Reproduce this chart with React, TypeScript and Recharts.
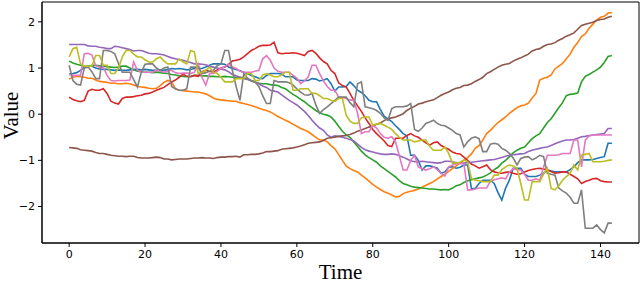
import { CartesianGrid, Label, Line, LineChart, XAxis, YAxis } from "recharts";

const TIME = Array.from({ length: 144 }, (_, i) => i);
const X_TICKS = [0, 20, 40, 60, 80, 100, 120, 140];
const Y_TICKS = [-2, -1, 0, 1, 2];

const blue = [
  0.87, 0.88, 0.9, 0.95, 1.02, 1.05, 1.04, 1.0, 0.98, 0.97, 0.97, 0.96, 0.95, 0.96, 0.95, 0.95,
  0.96, 0.97, 0.97, 0.96, 0.97, 0.96, 0.95, 0.95, 0.96, 0.95, 0.97, 0.99, 0.98, 0.99, 0.98, 0.96,
  0.97, 0.99, 0.99, 0.99, 1.02, 1.06, 1.09, 1.09, 1.09, 1.08, 1.02, 0.99, 0.97, 0.94, 0.91, 0.88,
  0.84, 0.81, 0.78, 0.77, 0.84, 0.88, 0.88, 0.88, 0.87, 0.81, 0.81, 0.81, 0.74, 0.73, 0.73, 0.73,
  0.77, 0.76, 0.72, 0.74, 0.77, 0.66, 0.5, 0.59, 0.59, 0.6, 0.7, 0.62, 0.52, 0.47, 0.4, 0.3,
  0.27, 0.27, 0.1, -0.04, -0.1, -0.16, -0.25, -0.33, -0.42, -0.47, -0.89, -0.89, -1.0, -1.21, -1.12, -1.12,
  -1.14, -1.17, -1.28, -1.25, -1.15, -1.14, -1.17, -1.15, -1.1, -1.1, -1.61, -1.61, -1.5, -1.43, -1.43, -1.43,
  -1.5, -1.7, -1.86, -1.6, -1.43, -1.17, -1.17, -1.17, -1.3, -1.35, -1.35, -1.35, -1.32, -1.28, -1.21, -1.23,
  -1.25, -1.25, -1.25, -1.25, -1.2, -1.14, -1.05, -0.99, -0.99, -0.99, -0.98, -0.96, -0.94, -0.92, -0.63, -0.63,
];

const orange = [
  0.76, 0.8, 0.82, 0.81, 0.8, 0.78, 0.78, 0.74, 0.71, 0.7, 0.69, 0.67, 0.67, 0.66, 0.66, 0.67,
  0.66, 0.63, 0.6, 0.59, 0.58, 0.56, 0.55, 0.56, 0.62, 0.69, 0.73, 0.7, 0.55, 0.52, 0.51, 0.5,
  0.49, 0.48, 0.48, 0.46, 0.44, 0.4, 0.35, 0.32, 0.31, 0.3, 0.29, 0.28, 0.28, 0.25, 0.23, 0.21,
  0.19, 0.16, 0.13, 0.1, 0.08, 0.05, 0.0, -0.05, -0.09, -0.13, -0.17, -0.22, -0.26, -0.31, -0.34, -0.38,
  -0.44, -0.5, -0.56, -0.56, -0.6, -0.68, -0.75, -0.87, -1.0, -1.12, -1.18, -1.22, -1.25, -1.32, -1.38, -1.45,
  -1.52, -1.58, -1.63, -1.68, -1.71, -1.75, -1.79, -1.78, -1.72, -1.69, -1.67, -1.65, -1.62, -1.58, -1.54, -1.5,
  -1.46, -1.4, -1.35, -1.3, -1.24, -1.18, -1.12, -1.05, -1.0, -0.94, -0.86, -0.74, -0.68, -0.56, -0.42, -0.35,
  -0.26, -0.18, -0.12, -0.06, 0.02, 0.08, 0.14, 0.18, 0.2, 0.24, 0.35, 0.45, 0.74, 0.78, 0.8, 0.85,
  0.98, 1.04, 1.1, 1.2, 1.3, 1.45, 1.55, 1.68, 1.74, 1.86, 1.95, 2.04, 2.1, 2.12, 2.19, 2.2,
];

const green = [
  1.15, 1.11, 1.08, 1.06, 1.04, 1.02, 1.06, 1.06, 1.05, 1.04, 1.03, 1.02, 1.01, 1.02, 1.04, 1.04,
  1.0, 0.96, 0.93, 0.92, 0.91, 0.91, 0.9, 0.91, 0.9, 0.89, 0.88, 0.86, 0.85, 0.83, 0.82, 0.81,
  0.82, 0.84, 0.84, 0.83, 0.83, 0.82, 0.82, 0.81, 0.81, 0.82, 0.81, 0.8, 0.8, 0.8, 0.79, 0.76,
  0.72, 0.69, 0.67, 0.66, 0.66, 0.64, 0.63, 0.62, 0.58, 0.55, 0.49, 0.43, 0.38, 0.32, 0.27, 0.2,
  0.14, 0.08, 0.03, 0.0, -0.02, -0.06, -0.15, -0.26, -0.37, -0.45, -0.5, -0.6, -0.7, -0.8, -0.88, -0.94,
  -0.99, -1.04, -1.12, -1.18, -1.24, -1.3, -1.36, -1.44, -1.5, -1.53, -1.56, -1.58, -1.59, -1.6, -1.61, -1.62,
  -1.62, -1.63, -1.64, -1.63, -1.64, -1.6, -1.55, -1.53, -1.48, -1.44, -1.42, -1.4, -1.38, -1.36, -1.32, -1.27,
  -1.2, -1.15, -1.06, -1.0, -0.92, -0.84, -0.78, -0.74, -0.71, -0.62, -0.53, -0.47, -0.42, -0.3, -0.18, -0.1,
  0.02, 0.14, 0.25, 0.4, 0.43, 0.44, 0.46, 0.7, 0.82, 0.86, 0.91, 0.96, 1.02, 1.12, 1.25, 1.27,
];

const red = [
  0.37, 0.32, 0.29, 0.27, 0.3, 0.5, 0.54, 0.52, 0.52, 0.55, 0.45, 0.28, 0.24, 0.22, 0.34, 0.37,
  0.37, 0.38, 0.4, 0.41, 0.44, 0.45, 0.48, 0.52, 0.55, 0.58, 0.64, 0.7, 0.74, 0.8, 0.87, 0.82,
  0.81, 0.84, 0.82, 0.92, 0.95, 0.93, 0.91, 0.96, 1.0, 1.02, 1.08, 1.15, 1.17, 1.19, 1.24, 1.31,
  1.38, 1.42, 1.47, 1.49, 1.49, 1.5, 1.56, 1.33, 1.31, 1.32, 1.32, 1.33, 1.32, 1.3, 1.27, 1.36,
  1.38, 1.32, 1.22, 1.14, 1.09, 0.95, 0.88, 0.68, 0.62, 0.59, 0.45, 0.3, 0.18, 0.06, -0.08, -0.2,
  -0.33, -0.42, -0.5, -0.58, -0.68, -0.7, -0.52, -0.52, -0.52, -0.46, -0.42, -0.47, -0.5, -0.56, -0.62, -0.67,
  -0.62, -0.6, -0.68, -0.72, -0.76, -0.82, -0.85, -0.86, -0.93, -1.0, -1.08, -1.12, -1.17, -1.14, -1.1, -1.2,
  -1.25, -1.27, -1.28, -1.26, -1.25, -1.28, -1.3, -1.29, -1.25, -1.22, -1.2, -1.18, -1.17, -1.19, -1.21, -1.24,
  -1.28, -1.27, -1.25, -1.25, -1.3, -1.35, -1.4, -1.5, -1.46, -1.43, -1.4, -1.39, -1.44, -1.46, -1.47, -1.47,
];

const purple = [
  1.51, 1.51, 1.51, 1.51, 1.51, 1.48, 1.47, 1.47, 1.45, 1.44, 1.42, 1.42, 1.47, 1.46, 1.44, 1.42,
  1.4, 1.37, 1.38, 1.38, 1.35, 1.32, 1.31, 1.31, 1.3, 1.28, 1.25, 1.22, 1.2, 1.18, 1.17, 1.14,
  1.12, 1.09, 1.09, 1.08, 1.07, 1.04, 1.02, 1.0, 0.98, 0.96, 0.92, 0.86, 0.83, 0.8, 0.77, 0.75,
  0.73, 0.7, 0.66, 0.61, 0.58, 0.52, 0.5, 0.48, 0.42, 0.36, 0.3, 0.25, 0.2, 0.13, 0.06, -0.03,
  -0.13, -0.22, -0.3, -0.35, -0.45, -0.5, -0.47, -0.48, -0.5, -0.52, -0.55, -0.58, -0.65, -0.72, -0.77, -0.8,
  -0.82, -0.84, -0.86, -0.87, -0.87, -0.86, -0.87, -0.9, -0.93, -0.97, -1.01, -1.03, -1.03, -1.02, -1.03, -1.04,
  -1.05, -1.06, -1.05, -1.02, -1.02, -1.03, -1.05, -1.06, -1.06, -1.05, -1.04, -1.03, -1.02, -1.01, -1.0, -0.99,
  -0.98, -0.96, -0.94, -0.91, -0.89, -0.88, -0.87, -0.86, -0.85, -0.81, -0.78, -0.76, -0.74, -0.72, -0.71, -0.68,
  -0.64, -0.61, -0.58, -0.56, -0.56, -0.55, -0.52, -0.49, -0.48, -0.46, -0.45, -0.44, -0.43, -0.42, -0.31, -0.31,
];

const brown = [
  -0.72, -0.73, -0.74, -0.77, -0.78, -0.79, -0.8, -0.83, -0.85, -0.85, -0.87, -0.89, -0.9, -0.91, -0.91, -0.92,
  -0.91, -0.91, -0.94, -0.95, -0.95, -0.95, -0.94, -0.93, -0.94, -0.97, -0.97, -0.99, -0.98, -0.97, -0.97, -0.97,
  -0.96, -0.95, -0.95, -0.94, -0.95, -0.95, -0.96, -0.94, -0.93, -0.93, -0.92, -0.92, -0.91, -0.93, -0.88, -0.88,
  -0.87, -0.87, -0.86, -0.84, -0.81, -0.81, -0.8, -0.79, -0.76, -0.75, -0.74, -0.73, -0.71, -0.69, -0.66, -0.63,
  -0.62, -0.61, -0.6, -0.57, -0.52, -0.51, -0.5, -0.48, -0.47, -0.46, -0.44, -0.41, -0.37, -0.34, -0.31, -0.28,
  -0.26, -0.22, -0.19, -0.14, -0.1, -0.08, -0.06, -0.03, 0.01, 0.08, 0.13, 0.17, 0.22, 0.24, 0.27, 0.29,
  0.31, 0.36, 0.41, 0.45, 0.48, 0.53, 0.56, 0.58, 0.62, 0.63, 0.66, 0.71, 0.75, 0.8, 0.88, 0.92,
  0.97, 1.02, 1.06, 1.08, 1.1, 1.15, 1.19, 1.22, 1.26, 1.3, 1.37, 1.4, 1.42, 1.47, 1.51, 1.52,
  1.55, 1.6, 1.64, 1.69, 1.72, 1.76, 1.84, 1.92, 1.95, 1.97, 1.99, 2.03, 2.05, 2.06, 2.1, 2.12,
];

const pink = [
  0.86, 0.84, 0.84, 0.84, 1.31, 1.32, 1.28, 1.05, 1.02, 1.02, 0.84, 0.73, 0.72, 0.73, 0.73, 0.73,
  0.74, 1.13, 0.95, 0.92, 0.91, 0.91, 0.91, 0.95, 0.93, 0.91, 0.93, 0.95, 0.9, 0.88, 0.89, 0.89,
  0.88, 0.91, 1.09, 0.8, 0.63, 0.88, 0.88, 0.93, 0.99, 1.03, 1.09, 1.02, 0.99, 0.93, 0.91, 0.91,
  0.91, 0.93, 0.95, 1.2, 1.27, 1.17, 1.0, 0.93, 0.91, 0.91, 0.91, 0.84, 0.78, 0.66, 0.72, 0.81,
  1.06, 1.06, 0.88, 0.72, 0.6, 0.52, 0.52, 0.37, 0.36, 0.34, 0.31, 0.3, 0.02, -0.42, -0.38, -0.38,
  -0.24, -0.3, -0.42, -0.5, -0.52, -0.49, -0.6, -0.9, -1.21, -1.21, -1.0, -0.89, -1.14, -1.18, -1.21, -1.18,
  -1.14, -1.2, -1.28, -1.34, -1.14, -1.1, -1.08, -1.07, -1.07, -1.64, -1.64, -1.62, -1.6, -1.6, -1.6, -1.45,
  -1.42, -1.4, -1.38, -1.4, -1.25, -1.18, -1.2, -1.21, -1.3, -1.43, -1.43, -1.4, -1.43, -1.15, -0.89, -0.89,
  -0.89, -0.88, -0.85, -0.85, -0.85, -0.56, -0.56, -1.14, -0.56, -0.47, -0.45, -0.45, -0.45, -0.45, -0.45, -0.45,
];

const gray = [
  1.06, 0.73, 0.65, 0.63, 1.0, 1.02, 0.92, 0.77, 0.77, 1.38, 1.38, 1.36, 1.31, 1.1, 0.91, 0.91,
  0.91, 0.75, 0.59, 0.91, 1.08, 1.09, 1.09, 1.0, 0.95, 1.0, 1.02, 0.6, 0.55, 0.52, 0.52, 0.55,
  1.02, 1.02, 1.02, 0.88, 0.9, 0.93, 0.95, 1.05, 1.09, 1.38, 1.38, 0.95, 0.6, 0.3, 0.88, 0.78,
  0.73, 0.7, 0.6, 0.4, 0.23, 0.23, 0.73, 0.7, 0.7, 0.7, 0.68, 0.63, 0.55, 0.48, 0.42, 0.41,
  0.45, 0.2, 0.02, 0.1, 0.16, 0.23, 0.3, 0.37, 0.37, 0.37, 0.25, 0.16, 0.66, 0.7, 0.16, 0.14,
  0.12, 0.08, 0.02, -0.08, -0.13, 0.12, 0.16, 0.16, 0.16, 0.18, 0.23, -0.33, -0.37, -0.3, -0.2, -0.17,
  -0.13, -0.2, -0.24, -0.25, -0.3, -0.35, -0.42, -0.45, -0.71, -0.6, -0.52, -0.49, -0.53, -0.81, -0.81, -0.65,
  -0.63, -0.65, -0.74, -0.78, -0.85, -0.95, -1.1, -0.96, -0.93, -0.92, -0.99, -0.95, -0.89, -0.92, -1.28, -1.3,
  -1.32, -1.6, -1.66, -1.71, -1.8, -1.93, -1.93, -1.64, -2.47, -2.47, -2.47, -2.4, -2.5, -2.57, -2.36, -2.36,
];

const olive = [
  1.24, 1.42, 1.45, 1.09, 1.04, 1.04, 1.04, 1.27, 1.27, 1.06, 1.06, 0.88, 0.88, 0.99, 1.24, 1.38,
  1.38, 1.3, 1.24, 1.24, 1.18, 1.13, 1.13, 1.2, 1.24, 1.15, 1.09, 1.09, 1.09, 1.2, 1.13, 1.09,
  1.38, 1.35, 0.88, 0.91, 0.95, 1.02, 0.91, 0.88, 0.8, 0.7, 0.7, 0.7, 0.77, 0.77, 0.77, 0.88,
  0.88, 0.73, 0.73, 0.85, 0.88, 0.85, 0.81, 0.81, 0.85, 0.91, 0.91, 0.52, 0.52, 0.55, 0.55, 0.55,
  0.45, 0.45, 0.4, 0.34, 0.34, 0.3, 0.28, 0.34, 0.34, -0.02, -0.15, -0.2, -0.2, -0.08, -0.06, -0.06,
  -0.24, -0.21, -0.2, -0.24, -0.28, -0.33, -0.42, -0.5, -0.56, -0.56, -0.56, -0.6, -0.58, -0.56, -0.56, -0.7,
  -0.78, -0.78, -0.78, -0.71, -0.85, -1.06, -1.06, -1.04, -0.99, -1.03, -1.39, -1.43, -1.44, -1.46, -1.46, -1.46,
  -1.32, -1.32, -1.2, -1.14, -1.1, -1.12, -1.17, -1.5, -1.86, -1.86, -1.46, -1.46, -1.46, -1.3, -1.17, -1.61,
  -1.64, -1.55, -1.43, -1.35, -1.28, -1.1, -1.21, -0.89, -0.87, -0.85, -1.03, -1.03, -1.03, -1.02, -1.0, -0.99,
];

const SERIES = [
  { key: "s0", values: blue, color: "#1f77b4" },
  { key: "s1", values: orange, color: "#ff7f0e" },
  { key: "s2", values: green, color: "#2ca02c" },
  { key: "s3", values: red, color: "#d62728" },
  { key: "s4", values: purple, color: "#9467bd" },
  { key: "s5", values: brown, color: "#8c564b" },
  { key: "s6", values: pink, color: "#e377c2" },
  { key: "s7", values: gray, color: "#7f7f7f" },
  { key: "s8", values: olive, color: "#bcbd22" },
];

const data = TIME.map((t, i) => {
  const row: Record<string, number> = { t };
  SERIES.forEach((s) => {
    row[s.key] = s.values[i];
  });
  return row;
});

const X_DOMAIN: [number, number] = [-7.15, 150.15];
const Y_DOMAIN: [number, number] = [-2.79, 2.43];

const tickStyle = { fill: "#000", fontSize: 11, fontFamily: "DejaVu Sans" };
const labelFont = { fontFamily: "Liberation Serif", fontSize: 21, fill: "#000" };
const minus = (v: number) => String(v).replace("-", "\u2212");

function TimeLabel({ viewBox }: any) {
  const cx = viewBox.x + viewBox.width / 2;
  return (
    <text x={cx} y={279} textAnchor="middle" style={labelFont}>
      Time
    </text>
  );
}

function ValueLabel({ viewBox }: any) {
  const cy = viewBox.y + viewBox.height / 2 - 7;
  return (
    <text x={18} y={cy} textAnchor="middle" transform={`rotate(-90 18 ${cy})`} style={labelFont}>
      Value
    </text>
  );
}

// frame lines on the plot edges (matplotlib's top/right spines)
const edgeRows = ({ offset }: any) => [offset.top, offset.top + offset.height];
const edgeCols = ({ offset }: any) => [offset.left, offset.left + offset.width];

export default function App() {
  return (
    <div style={{ width: 640, height: 284, background: "#fff" }}>
      <style>{`body{margin:0}`}</style>
      <LineChart width={640} height={284} data={data} margin={{ top: 2, right: 1, bottom: 0, left: 0 }}>
        <CartesianGrid
          stroke="#000"
          strokeWidth={1}
          fill="none"
          horizontalCoordinatesGenerator={edgeRows}
          verticalCoordinatesGenerator={edgeCols}
        />
        <XAxis
          dataKey="t"
          type="number"
          domain={X_DOMAIN}
          ticks={X_TICKS}
          allowDataOverflow
          height={41}
          tick={tickStyle}
          tickSize={4}
          tickMargin={3}
          tickFormatter={minus}
          stroke="#000"
        >
          <Label content={TimeLabel} />
        </XAxis>
        <YAxis
          type="number"
          domain={Y_DOMAIN}
          ticks={Y_TICKS}
          allowDataOverflow
          width={42}
          tick={tickStyle}
          tickSize={4}
          tickMargin={3}
          tickFormatter={minus}
          stroke="#000"
        >
          <Label content={ValueLabel} />
        </YAxis>
        {SERIES.map((s) => (
          <Line
            key={s.key}
            dataKey={s.key}
            type="linear"
            stroke={s.color}
            strokeWidth={1.6}
            dot={false}
            activeDot={false}
            isAnimationActive={false}
          />
        ))}
      </LineChart>
    </div>
  );
}
